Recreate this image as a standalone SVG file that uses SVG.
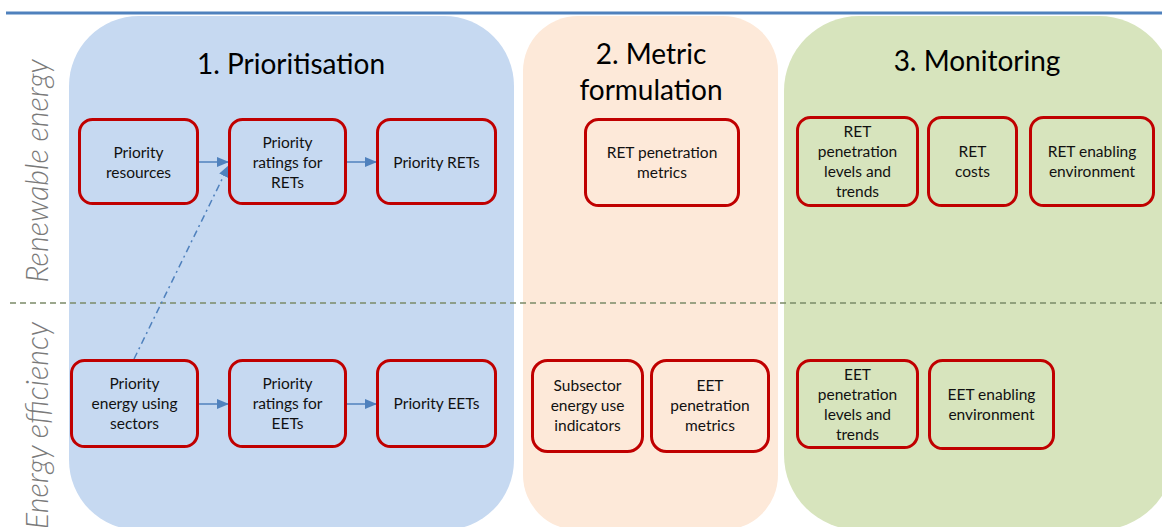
<svg xmlns="http://www.w3.org/2000/svg" width="1162" height="527" viewBox="0 0 1162 527">
<defs>
<marker id="ah" viewBox="0 0 12 10" refX="12" refY="5" markerWidth="12" markerHeight="10" markerUnits="userSpaceOnUse" orient="auto">
<path d="M0,0 L12,5 L0,10 Z" fill="#4F81BD"/>
</marker>
<style>
.node{fill:none;stroke:#C00000;stroke-width:3}
.nt{font-family:Lato,"Liberation Sans",sans-serif;font-size:15.5px;fill:#111;text-anchor:middle}
.title{font-family:Lato,"Liberation Sans",sans-serif;font-size:28px;fill:#000;text-anchor:middle}
.side{font-family:Lato,"Liberation Sans",sans-serif;font-style:italic;font-weight:300;font-size:30.5px;fill:#7A7A7A}
.conn{stroke:#4F81BD;stroke-width:1.5;fill:none}
</style>
</defs>
<rect width="1162" height="527" fill="#fff"/>
<line x1="6" y1="13" x2="1162" y2="13" stroke="#4F81BD" stroke-width="3"/>
<g id="panels">
<rect x="69" y="16" width="445" height="514" rx="70" fill="#C6D9F1"/>
<rect x="523" y="16" width="255" height="514" rx="55" fill="#FDE9D9"/>
<rect x="784" y="16" width="390" height="514" rx="75" fill="#D7E4BD"/>
</g>
<line x1="10" y1="303" x2="1162" y2="303" stroke="#7B8B68" stroke-width="1.3" stroke-dasharray="6,4"/>
<g id="side-labels">
<text class="side" text-anchor="middle" transform="translate(48,171) rotate(-90)">Renewable energy</text>
<text class="side" text-anchor="end" transform="translate(48,322) rotate(-90)">Energy efficiency</text>
</g>
<g id="titles">
<text class="title" x="291" y="74">1. Prioritisation</text>
<text class="title" x="651" y="64">2. Metric</text>
<text class="title" x="651" y="100">formulation</text>
<text class="title" x="977" y="71">3. Monitoring</text>
</g>
<g id="connectors">
<line class="conn" x1="198" y1="162" x2="229" y2="162" marker-end="url(#ah)"/>
<line class="conn" x1="346" y1="162" x2="377" y2="162" marker-end="url(#ah)"/>
<line class="conn" x1="198" y1="404" x2="229" y2="404" marker-end="url(#ah)"/>
<line class="conn" x1="346" y1="404" x2="377" y2="404" marker-end="url(#ah)"/>
<line class="conn" x1="134" y1="359" x2="229" y2="165" stroke-dasharray="7,4,2,4" marker-end="url(#ah)"/>
</g>
<g id="n-priority-resources">
<rect class="node" x="79.5" y="119.5" width="118" height="84" rx="13"/>
<text class="nt" x="138.5" y="158">Priority</text>
<text class="nt" x="138.5" y="178">resources</text>
</g>
<g id="n-priority-ratings-rets">
<rect class="node" x="229.5" y="119.5" width="116" height="84" rx="13"/>
<text class="nt" x="287.5" y="148">Priority</text>
<text class="nt" x="287.5" y="168">ratings for</text>
<text class="nt" x="287.5" y="188">RETs</text>
</g>
<g id="n-priority-rets">
<rect class="node" x="377.5" y="119.5" width="118" height="84" rx="13"/>
<text class="nt" x="436.5" y="168">Priority RETs</text>
</g>
<g id="n-ret-pen-metrics">
<rect class="node" x="585.5" y="119.5" width="153" height="86" rx="13"/>
<text class="nt" x="662" y="158">RET penetration</text>
<text class="nt" x="662" y="178">metrics</text>
</g>
<g id="n-ret-pen-levels">
<rect class="node" x="797.5" y="117.5" width="120" height="88" rx="13"/>
<text class="nt" x="857.5" y="137">RET</text>
<text class="nt" x="857.5" y="157">penetration</text>
<text class="nt" x="857.5" y="177">levels and</text>
<text class="nt" x="857.5" y="197">trends</text>
</g>
<g id="n-ret-costs">
<rect class="node" x="928.5" y="117.5" width="88" height="88" rx="13"/>
<text class="nt" x="972.5" y="157">RET</text>
<text class="nt" x="972.5" y="177">costs</text>
</g>
<g id="n-ret-enabling">
<rect class="node" x="1030.5" y="117.5" width="123" height="88" rx="13"/>
<text class="nt" x="1092" y="157">RET enabling</text>
<text class="nt" x="1092" y="177">environment</text>
</g>
<g id="n-priority-sectors">
<rect class="node" x="71.5" y="360.5" width="126" height="86" rx="13"/>
<text class="nt" x="134.5" y="389">Priority</text>
<text class="nt" x="134.5" y="409">energy using</text>
<text class="nt" x="134.5" y="429">sectors</text>
</g>
<g id="n-priority-ratings-eets">
<rect class="node" x="229.5" y="360.5" width="116" height="86" rx="13"/>
<text class="nt" x="287.5" y="389">Priority</text>
<text class="nt" x="287.5" y="409">ratings for</text>
<text class="nt" x="287.5" y="429">EETs</text>
</g>
<g id="n-priority-eets">
<rect class="node" x="377.5" y="360.5" width="118" height="86" rx="13"/>
<text class="nt" x="436.5" y="409">Priority EETs</text>
</g>
<g id="n-subsector">
<rect class="node" x="532.5" y="360.5" width="110" height="91" rx="15"/>
<text class="nt" x="587.5" y="391">Subsector</text>
<text class="nt" x="587.5" y="411">energy use</text>
<text class="nt" x="587.5" y="431">indicators</text>
</g>
<g id="n-eet-pen-metrics">
<rect class="node" x="651.5" y="360.5" width="117" height="91" rx="15"/>
<text class="nt" x="710" y="391">EET</text>
<text class="nt" x="710" y="411">penetration</text>
<text class="nt" x="710" y="431">metrics</text>
</g>
<g id="n-eet-pen-levels">
<rect class="node" x="797.5" y="360.5" width="120" height="87" rx="13"/>
<text class="nt" x="857.5" y="380">EET</text>
<text class="nt" x="857.5" y="400">penetration</text>
<text class="nt" x="857.5" y="420">levels and</text>
<text class="nt" x="857.5" y="440">trends</text>
</g>
<g id="n-eet-enabling">
<rect class="node" x="929.5" y="360.5" width="124" height="88" rx="13"/>
<text class="nt" x="991.5" y="400">EET enabling</text>
<text class="nt" x="991.5" y="420">environment</text>
</g>
</svg>
